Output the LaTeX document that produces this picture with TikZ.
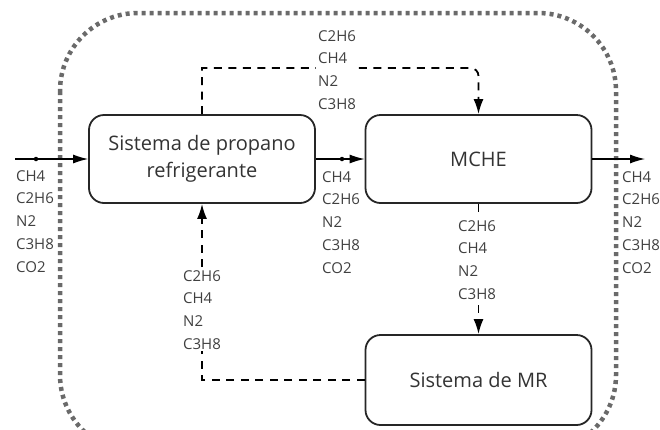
\documentclass[tikz,border=0pt]{standalone}
\usepackage{fontspec}
\setmainfont{Open Sans}
\usetikzlibrary{arrows.meta}
\definecolor{txtgray}{HTML}{404040}
\definecolor{framegray}{HTML}{6A6A6A}
\begin{document}
\begin{tikzpicture}[x=1pt,y=-1pt,%
% common options for the process blocks:
unit/.style = {draw=black!85, line width=1.8pt, rounded corners=15pt, align=center,
            minimum width=226pt, minimum height=88pt, text=black!80,
            font=\fontsize{20}{27}\selectfont, inner sep=0},
% common options for the component lists:
species/.style = {fill=white, align=left, anchor=north west, inner sep=2pt,
            text=txtgray, font=\fontsize{15}{22.75}\selectfont},
% streams:
stream/.style = {line width=1.2pt, -{Latex[length=15pt,width=9pt]}},
flow/.style = {line width=1.8pt, dash pattern=on 8pt off 6.5pt, -{Latex[length=15pt,width=10pt]}},
junction/.style = {circle, fill=black, inner sep=0, minimum size=4.5pt}]
\useasboundingbox (0,0) rectangle (660,429);
% dotted system boundary
\draw[framegray, line width=4.5pt, dash pattern=on 4pt off 4pt, rounded corners=78pt]
  (60,13) rectangle (616,453);
\node[unit] (prop) at (202,159) {Sistema de propano\\refrigerante};
\node[unit] (mche) at (478.5,159) {MCHE};
\node[unit, minimum height=90pt] (mr) at (478.5,380) {Sistema de MR};
\coordinate (feed) at (15,159);
\coordinate (lng) at (645,159);
\coordinate (topbend) at (202,68);
\node[junction] (j1) at (36,159) {};
\node[junction] (j2) at (342,159) {};
\draw[stream] (feed) -- (prop.west);
\draw[stream] (prop.east) -- (mche.west);
\draw[stream] (mche.east) -- (lng);
\draw[flow] (prop.north) -- (topbend) [rounded corners=8pt] -| (mche.north);
\draw[flow] (mche.south) -- (mr.north);
\draw[flow] (mr.west) -| (prop.south);
\node[species] (sfeed) at (14,168) {CH4\\C2H6\\N2\\C3H8\\CO2};
\node[species] (smid) at (320,169) {CH4\\C2H6\\N2\\C3H8\\CO2};
\node[species] (sout) at (620,169) {CH4\\C2H6\\N2\\C3H8\\CO2};
\node[species] (stop) at (316,28) {C2H6\\CH4\\N2\\C3H8};
\node[species] (sdown) at (456,218) {C2H6\\CH4\\N2\\C3H8};
\node[species] (sback) at (181,268) {C2H6\\CH4\\N2\\C3H8};
\end{tikzpicture}
\end{document}
